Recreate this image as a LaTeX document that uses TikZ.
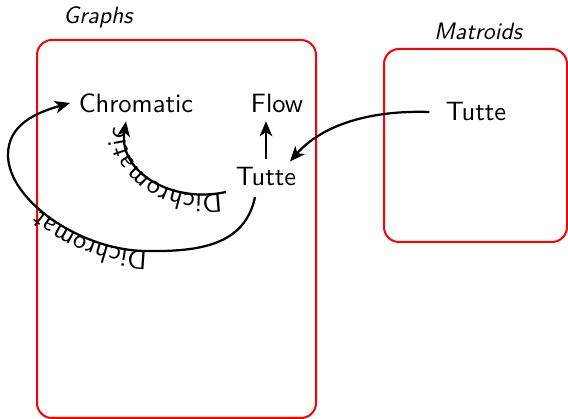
\documentclass[tikz,border=0pt]{standalone}
\usetikzlibrary{arrows.meta,decorations.text}
\newcommand{\nfont}{\sffamily\fontsize{10.6}{12}\selectfont}
\begin{document}
\begin{tikzpicture}[x=0.4pt,y=-0.4pt,
  every node/.style={font=\nfont},
  region/.style={draw=red,line width=0.8pt,rounded corners=6pt},
  lbl/.style={font=\sffamily\itshape\fontsize{9.5}{11}\selectfont},
  conn/.style={line width=0.9pt,-{Stealth[length=6pt,width=5pt,inset=1.6pt]}},
  dichc/.style={postaction={decorate,decoration={text along path,text align=center,
     text={|\nfont|Dichromatic}}}},
  dichl/.style={postaction={decorate,decoration={text along path,text align={left indent=53pt},
     text={|\nfont|Dichromat}}}}]
\useasboundingbox (0,0) rectangle (568,419);
\draw[region] (37,40) rectangle (316,418);
\draw[region] (384,49) rectangle (567,242);
\node[lbl] (gl) at (98,17) {Graphs};
\node[lbl] (ml) at (478,31) {Matroids};
\node (chrom) at (136,103) {Chromatic};
\node (flow) at (277,103) {Flow};
\node (tg) at (266,177) {Tutte};
\node (tm) at (476,112) {Tutte};
\coordinate (i0) at (226,192);
\coordinate (o0) at (255,197);
\coordinate (o1) at (145,251);
\coordinate (o2) at (8,155);
\draw[conn,dichc] (i0) .. controls (172,204) and (118,172) .. (chrom.south -| 126,0);
\draw[conn,dichl] (o0) .. controls (245,245) and (200,252) .. (o1)
   .. controls (80,250) and (8,200) .. (o2)
   .. controls (8,125) and (35,113) .. (chrom.west);
\draw[conn] (tg.north) -- (tg.north |- flow.south);
\draw[conn] ([xshift=-3pt]tm.west) .. controls (370,110) and (322,125) .. ([xshift=-6pt,yshift=-1pt]tg.north east);
\end{tikzpicture}
\end{document}
